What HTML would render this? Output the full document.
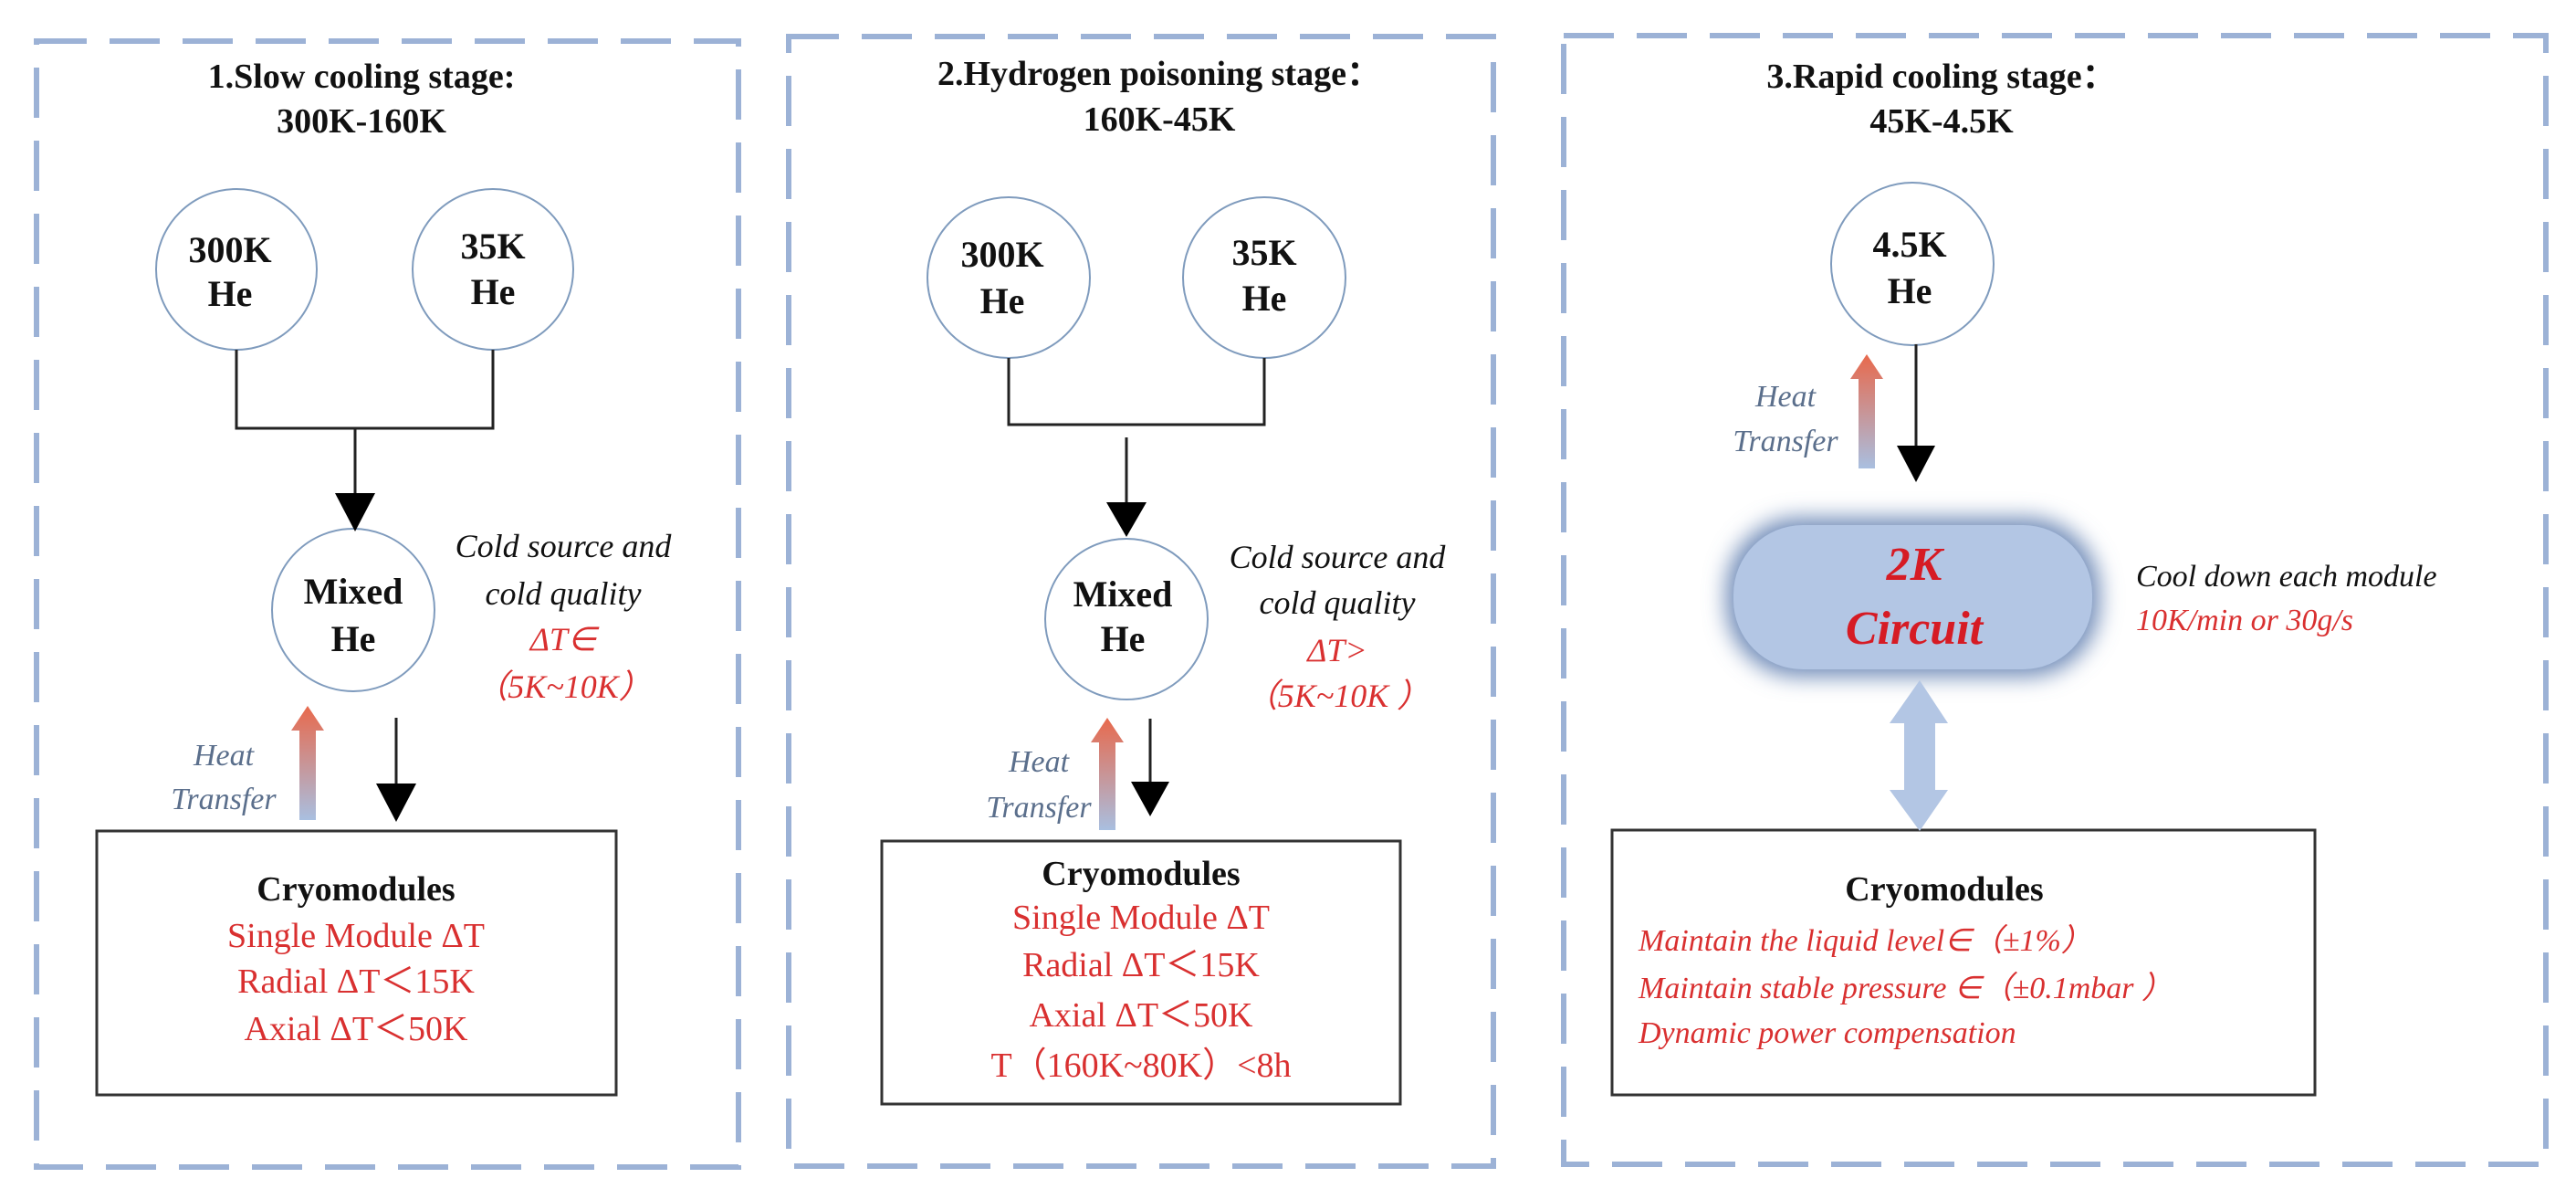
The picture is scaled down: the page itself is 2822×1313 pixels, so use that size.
<!DOCTYPE html>
<html><head><meta charset="utf-8"><style>
html,body{margin:0;padding:0;background:#fff;}
svg{display:block;}
.t{font-family:"Liberation Serif",serif;}
</style></head><body>
<svg width="2822" height="1313" viewBox="0 0 2822 1313" xmlns="http://www.w3.org/2000/svg">
<defs>
<linearGradient id="ht" x1="0" y1="1" x2="0" y2="0">
<stop offset="0" stop-color="#a9bfe0"/><stop offset="1" stop-color="#e8694c"/>
</linearGradient>
<filter id="glow" x="-30%" y="-40%" width="160%" height="180%"><feGaussianBlur stdDeviation="12"/></filter>
</defs>
<g fill="none" stroke="#9cb2d6" stroke-width="6" stroke-dasharray="55 25">
<rect x="40" y="45" width="769" height="1233"/>
<rect x="864" y="40" width="772" height="1237"/>
<rect x="1713" y="39" width="1076" height="1236"/>
</g>
<g class="t" font-weight="bold" font-size="38" text-anchor="middle" fill="#111">
<text x="396" y="96">1.Slow cooling stage:</text>
<text x="396" y="145">300K-160K</text>
<text x="1270" y="93">2.Hydrogen poisoning stage：</text>
<text x="1270" y="143">160K-45K</text>
<text x="2127" y="96">3.Rapid cooling stage：</text>
<text x="2127" y="145">45K-4.5K</text>
</g>
<g fill="#fff" stroke="#7f9bbd" stroke-width="2">
<ellipse cx="259" cy="295" rx="88" ry="88"/>
<ellipse cx="540" cy="295" rx="88" ry="88"/>
<ellipse cx="387" cy="668" rx="89" ry="89"/>
<ellipse cx="1105" cy="304" rx="89" ry="88"/>
<ellipse cx="1385" cy="304" rx="89" ry="88"/>
<ellipse cx="1234" cy="678" rx="89" ry="88"/>
<ellipse cx="2095" cy="289" rx="89" ry="89"/>
</g>
<g class="t" font-weight="bold" font-size="40" text-anchor="middle" fill="#111">
<text x="252" y="287">300K</text><text x="252" y="335">He</text>
<text x="540" y="283">35K</text><text x="540" y="333">He</text>
<text x="387" y="661">Mixed</text><text x="387" y="713">He</text>
<text x="1098" y="292">300K</text><text x="1098" y="343">He</text>
<text x="1385" y="290">35K</text><text x="1385" y="340">He</text>
<text x="1230" y="664">Mixed</text><text x="1230" y="713">He</text>
<text x="2092" y="281">4.5K</text><text x="2092" y="332">He</text>
</g>
<g stroke="#222" stroke-width="3" fill="none">
<path d="M259 383V469H540V383"/>
<path d="M389 469V545"/>
<path d="M434 786V862"/>
<path d="M1105 392V465H1385V392"/>
<path d="M1234 479V552"/>
<path d="M1260 787V858"/>
<path d="M2099 377V490"/>
</g>
<g fill="#000">
<polygon points="367,540 411,540 389,582"/>
<polygon points="412,858 456,858 434,900"/>
<polygon points="1212,550 1256,550 1234,588"/>
<polygon points="1239,856 1281,856 1260,894"/>
<polygon points="2078,488 2120,488 2099,528"/>
</g>
<g fill="url(#ht)">
<polygon points="337,773 355,800 346,800 346,898 328,898 328,800 319,800"/>
<polygon points="1213,786 1231,813 1222,813 1222,909 1204,909 1204,813 1195,813"/>
<polygon points="2045,388 2063,415 2054,415 2054,513 2036,513 2036,415 2027,415"/>
</g>
<g class="t" font-style="italic" font-size="34" fill="#5b6f8c" text-anchor="middle">
<text x="245" y="838">Heat</text><text x="245" y="886">Transfer</text>
<text x="1138" y="845">Heat</text><text x="1138" y="895">Transfer</text>
<text x="1956" y="445">Heat</text><text x="1956" y="494">Transfer</text>
</g>
<g class="t" font-style="italic" font-size="36" text-anchor="middle">
<text x="617" y="610" fill="#111">Cold source and</text>
<text x="617" y="662" fill="#111">cold quality</text>
<text x="617" y="712" fill="#d93030">ΔT∈</text>
<text x="617" y="764" fill="#d93030">（5K~10K）</text>
<text x="1465" y="622" fill="#111">Cold source and</text>
<text x="1465" y="672" fill="#111">cold quality</text>
<text x="1465" y="724" fill="#d93030">ΔT&gt;</text>
<text x="1465" y="774" fill="#d93030">（5K~10K ）</text>
</g>
<g fill="#fff" stroke="#333" stroke-width="3">
<rect x="106" y="910" width="569" height="289"/>
<rect x="966" y="921" width="568" height="288"/>
<rect x="1766" y="909" width="770" height="290"/>
</g>
<g class="t" font-size="38" text-anchor="middle">
<text x="390" y="986" font-weight="bold" fill="#111">Cryomodules</text>
<text x="390" y="1037" fill="#d93030">Single Module ΔT</text>
<text x="390" y="1087" fill="#d93030">Radial ΔT＜15K</text>
<text x="390" y="1139" fill="#d93030">Axial ΔT＜50K</text>
<text x="1250" y="969" font-weight="bold" fill="#111">Cryomodules</text>
<text x="1250" y="1017" fill="#d93030">Single Module ΔT</text>
<text x="1250" y="1069" fill="#d93030">Radial ΔT＜15K</text>
<text x="1250" y="1124" fill="#d93030">Axial ΔT＜50K</text>
<text x="1250" y="1179" fill="#d93030">T（160K~80K）&lt;8h</text>
<text x="2130" y="986" font-weight="bold" fill="#111">Cryomodules</text>
</g>
<g class="t" font-style="italic" font-size="34" fill="#d93030">
<text x="1795" y="1041">Maintain the liquid level∈（±1%）</text>
<text x="1795" y="1093">Maintain stable pressure ∈（±0.1mbar ）</text>
<text x="1795" y="1142">Dynamic power compensation</text>
</g>
<rect x="1891" y="567" width="409" height="174" rx="80" fill="#6f8bb8" filter="url(#glow)"/>
<rect x="1899" y="575" width="393" height="158" rx="76" fill="#b3c6e4"/>
<g class="t" font-weight="bold" font-style="italic" fill="#d61b24" text-anchor="middle">
<text x="2097" y="635" font-size="52">2K</text>
<text x="2097" y="705" font-size="52">Circuit</text>
</g>
<polygon points="2103,745 2134,792 2120,792 2120,865 2134,865 2103,910 2070,865 2086,865 2086,792 2070,792" fill="#b3c6e4"/>
<g class="t" font-style="italic" font-size="34">
<text x="2340" y="642" fill="#111">Cool down each module</text>
<text x="2340" y="690" fill="#d93030">10K/min or 30g/s</text>
</g>
</svg>
</body></html>
